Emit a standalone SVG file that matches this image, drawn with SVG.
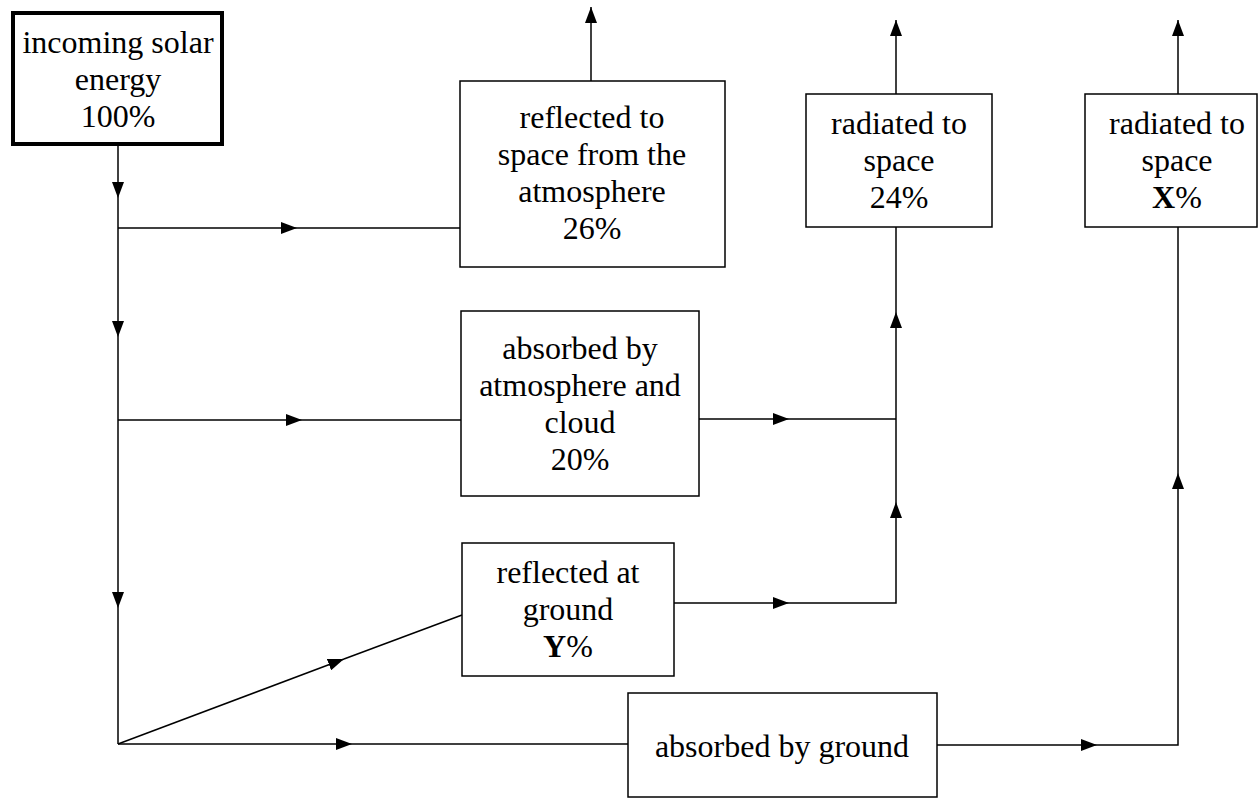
<svg xmlns="http://www.w3.org/2000/svg" width="1259" height="798" viewBox="0 0 1259 798">
<defs>
<marker id="ah" viewBox="0 0 16 12" markerWidth="16" markerHeight="12" markerUnits="userSpaceOnUse" refX="16" refY="6" orient="auto">
<path d="M0,0 L16,6 L0,12 z" fill="#000"/>
</marker>
</defs>
<rect width="1259" height="798" fill="#fff"/>
<g id="connectors" fill="none" stroke="#000" stroke-width="1.5">
<path d="M118,146 V198" marker-end="url(#ah)"/>
<path d="M118,198 V337" marker-end="url(#ah)"/>
<path d="M118,337 V608" marker-end="url(#ah)"/>
<path d="M118,608 V744"/>
<path d="M118,228 H297" marker-end="url(#ah)"/>
<path d="M297,228 H460"/>
<path d="M118,420 H302" marker-end="url(#ah)"/>
<path d="M302,420 H461"/>
<path d="M118,744 L344,659" marker-end="url(#ah)"/>
<path d="M344,659 L462,615"/>
<path d="M118,744 H352" marker-end="url(#ah)"/>
<path d="M352,744 H628"/>
<path d="M937,745 H1097" marker-end="url(#ah)"/>
<path d="M1097,745 H1178 V473" marker-end="url(#ah)"/>
<path d="M1178,473 V227"/>
<path d="M699,419 H789" marker-end="url(#ah)"/>
<path d="M789,419 H896"/>
<path d="M674,603 H789" marker-end="url(#ah)"/>
<path d="M789,603 H896 V502" marker-end="url(#ah)"/>
<path d="M896,502 V312" marker-end="url(#ah)"/>
<path d="M896,312 V227"/>
<path d="M591,81 V7" marker-end="url(#ah)"/>
<path d="M896,94 V20" marker-end="url(#ah)"/>
<path d="M1178,94 V20" marker-end="url(#ah)"/>
</g>
<g id="incoming">
<rect x="13" y="13" width="209" height="131" fill="#fff" stroke="#000" stroke-width="4"/>
<text style="font-family:'Liberation Serif','Times New Roman',Tinos,serif;font-size:32px;text-anchor:middle" x="118" y="53">incoming solar</text>
<text style="font-family:'Liberation Serif','Times New Roman',Tinos,serif;font-size:32px;text-anchor:middle" x="118" y="90">energy</text>
<text style="font-family:'Liberation Serif','Times New Roman',Tinos,serif;font-size:32px;text-anchor:middle" x="118" y="127">100%</text>
</g>
<g id="reflected-space">
<rect x="460" y="81" width="265" height="186" fill="#fff" stroke="#000" stroke-width="1.5"/>
<text style="font-family:'Liberation Serif','Times New Roman',Tinos,serif;font-size:32px;text-anchor:middle" x="592" y="128">reflected to</text>
<text style="font-family:'Liberation Serif','Times New Roman',Tinos,serif;font-size:32px;text-anchor:middle" x="592" y="165">space from the</text>
<text style="font-family:'Liberation Serif','Times New Roman',Tinos,serif;font-size:32px;text-anchor:middle" x="592" y="202">atmosphere</text>
<text style="font-family:'Liberation Serif','Times New Roman',Tinos,serif;font-size:32px;text-anchor:middle" x="592" y="239">26%</text>
</g>
<g id="radiated-24">
<rect x="806" y="94" width="186" height="133" fill="#fff" stroke="#000" stroke-width="1.5"/>
<text style="font-family:'Liberation Serif','Times New Roman',Tinos,serif;font-size:32px;text-anchor:middle" x="899" y="134">radiated to</text>
<text style="font-family:'Liberation Serif','Times New Roman',Tinos,serif;font-size:32px;text-anchor:middle" x="899" y="171">space</text>
<text style="font-family:'Liberation Serif','Times New Roman',Tinos,serif;font-size:32px;text-anchor:middle" x="899" y="208">24%</text>
</g>
<g id="radiated-x">
<rect x="1085" y="94" width="172" height="133" fill="#fff" stroke="#000" stroke-width="1.5"/>
<text style="font-family:'Liberation Serif','Times New Roman',Tinos,serif;font-size:32px;text-anchor:middle" x="1177" y="134">radiated to</text>
<text style="font-family:'Liberation Serif','Times New Roman',Tinos,serif;font-size:32px;text-anchor:middle" x="1177" y="171">space</text>
<text style="font-family:'Liberation Serif','Times New Roman',Tinos,serif;font-size:32px;text-anchor:middle" x="1177" y="208"><tspan style="font-weight:bold">X</tspan>%</text>
</g>
<g id="absorbed-atmosphere">
<rect x="461" y="311" width="238" height="185" fill="#fff" stroke="#000" stroke-width="1.5"/>
<text style="font-family:'Liberation Serif','Times New Roman',Tinos,serif;font-size:32px;text-anchor:middle" x="580" y="359">absorbed by</text>
<text style="font-family:'Liberation Serif','Times New Roman',Tinos,serif;font-size:32px;text-anchor:middle" x="580" y="396">atmosphere and</text>
<text style="font-family:'Liberation Serif','Times New Roman',Tinos,serif;font-size:32px;text-anchor:middle" x="580" y="433">cloud</text>
<text style="font-family:'Liberation Serif','Times New Roman',Tinos,serif;font-size:32px;text-anchor:middle" x="580" y="470">20%</text>
</g>
<g id="reflected-ground">
<rect x="462" y="543" width="212" height="133" fill="#fff" stroke="#000" stroke-width="1.5"/>
<text style="font-family:'Liberation Serif','Times New Roman',Tinos,serif;font-size:32px;text-anchor:middle" x="568" y="583">reflected at</text>
<text style="font-family:'Liberation Serif','Times New Roman',Tinos,serif;font-size:32px;text-anchor:middle" x="568" y="620">ground</text>
<text style="font-family:'Liberation Serif','Times New Roman',Tinos,serif;font-size:32px;text-anchor:middle" x="568" y="657"><tspan style="font-weight:bold">Y</tspan>%</text>
</g>
<g id="absorbed-ground">
<rect x="628" y="693" width="309" height="104" fill="#fff" stroke="#000" stroke-width="1.5"/>
<text style="font-family:'Liberation Serif','Times New Roman',Tinos,serif;font-size:32px;text-anchor:middle" x="782" y="757">absorbed by ground</text>
</g>
</svg>
